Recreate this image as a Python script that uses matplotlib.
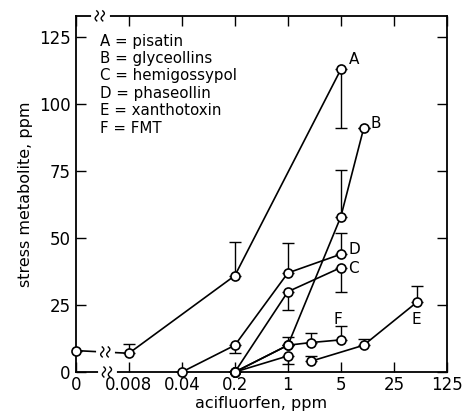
import numpy as np
import matplotlib
matplotlib.use("Agg")
import matplotlib.pyplot as plt
import matplotlib.transforms as mtransforms

# zero dose is drawn one log5 step below 0.008
zero_pos = 0.0016

xticks = [0, 0.008, 0.04, 0.2, 1, 5, 25, 125]
xticklabels = ["0", "0.008", "0.04", "0.2", "1", "5", "25", "125"]
yticks = [0, 25, 50, 75, 100, 125]

# A = pisatin
a_x = [0, 0.008, 0.2, 5]
a_y = [8, 7, 36, 113]
a_lo = [0, 0, 0, 22]
a_hi = [0, 3.5, 12.5, 0]

# B = glyceollins
b_x = [0.2, 1, 5, 10]
b_y = [0, 10, 58, 91]
b_lo = [0, 0, 0, 0]
b_hi = [0, 0, 17.5, 0]

# C = hemigossypol
c_x = [0.2, 1, 5]
c_y = [0, 30, 39]
c_lo = [0, 7, 9]
c_hi = [0, 0, 0]

# D = phaseollin
d_x = [0.04, 0.2, 1, 5]
d_y = [0, 10, 37, 44]
d_lo = [0, 3, 0, 0]
d_hi = [0, 0, 11, 8]

# E = xanthotoxin (two drawn pieces)
e1_x = [0.2, 1]
e1_y = [0, 6]
e1_lo = [0, 3]
e1_hi = [0, 0]
e2_x = [2, 10, 50]
e2_y = [4, 10, 26]
e2_lo = [0, 0, 0]
e2_hi = [2, 2.5, 6]

# F = FMT
f_x = [0.2, 1, 2, 5]
f_y = [0, 10, 11, 12]
f_lo = [0, 0, 0, 0]
f_hi = [0, 3, 3.5, 5]

legend_lines = ["A = pisatin", "B = glyceollins", "C = hemigossypol",
                "D = phaseollin", "E = xanthotoxin", "F = FMT"]


def pos(xs):
    return [zero_pos if v == 0 else v for v in xs]


fig = plt.figure(figsize=(4.63, 4.18), dpi=100)
ax = fig.add_axes([0.164, 0.110, 0.801, 0.852])

series = [(a_x, a_y, a_lo, a_hi), (b_x, b_y, b_lo, b_hi),
          (c_x, c_y, c_lo, c_hi), (d_x, d_y, d_lo, d_hi),
          (e1_x, e1_y, e1_lo, e1_hi), (e2_x, e2_y, e2_lo, e2_hi),
          (f_x, f_y, f_lo, f_hi)]

for xs, ys, lo, hi in series:
    ax.errorbar(pos(xs), ys, yerr=[lo, hi], fmt="none", ecolor="black",
                elinewidth=1.0, capsize=4, capthick=1.0, zorder=2)
    ax.plot(pos(xs), ys, color="black", lw=1.2, marker="o", ms=6.5,
            mfc="white", mec="black", mew=1.2, zorder=3, clip_on=False)

ax.set_xscale("log", base=5)
ax.set_xlim(zero_pos, 125)
ax.set_ylim(0, 133)
ax.set_xticks(pos(xticks))
ax.set_xticklabels(xticklabels)
ax.minorticks_off()
ax.set_yticks(yticks)
ax.tick_params(direction="in", length=7, width=1, labelsize=12,
               top=True, right=True)
ax.tick_params(axis="x", pad=3)
ax.tick_params(axis="y", pad=4)
for s in ax.spines.values():
    s.set_linewidth(1.3)

ax.set_xlabel("acifluorfen, ppm", fontsize=11.5, labelpad=1)
ax.set_ylabel("stress metabolite, ppm", fontsize=11.5, labelpad=4)

ax.text(0.066, 0.95, "\n".join(legend_lines), transform=ax.transAxes,
        fontsize=10.8, va="top", ha="left", linespacing=1.2)

# curve letters
ax.text(6.3, 115, "A", fontsize=11)
ax.text(12.5, 91, "B", fontsize=11)
ax.text(6.3, 44, "D", fontsize=11)
ax.text(6.3, 37, "C", fontsize=11)
ax.text(4.0, 18, "F", fontsize=11)
ax.text(50, 18, "E", fontsize=11, ha="center")

# axis breaks drawn as small wavy marks in pixel space
fig.canvas.draw()
trans = mtransforms.blended_transform_factory(ax.transData, ax.transAxes)
ident = mtransforms.IdentityTransform()
t = np.linspace(-1, 1, 30)


def wavy_break(px, py):
    ax.plot([px - 7, px + 7], [py, py], color="white", lw=3.5,
            transform=ident, clip_on=False, zorder=5)
    for dx in (-3, 3):
        xs = px + dx + 1.6 * np.sin(t * np.pi)
        ys = py + 5 * t
        ax.plot(xs, ys, color="black", lw=1.0, transform=ident,
                clip_on=False, zorder=6)


for bx, by in [(0.0033, 1.0), (0.0041, 0.0)]:
    px, py = trans.transform((bx, by))
    wavy_break(px, py)
px, py = ax.transData.transform((0.0039, 7.5))
wavy_break(px, py)

fig.savefig("out.png", dpi=100)
